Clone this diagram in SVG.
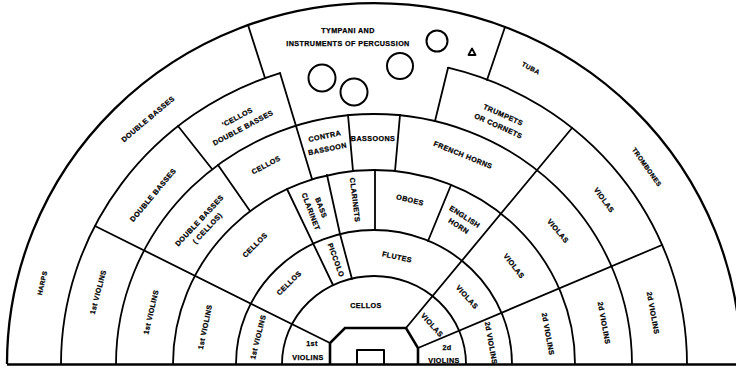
<svg xmlns="http://www.w3.org/2000/svg" width="736" height="369" viewBox="0 0 736 369">
<style>
.ln{fill:none;stroke:#000;stroke-width:1.8;stroke-linecap:round;stroke-linejoin:round}
.out{fill:none;stroke:#000;stroke-width:2.3}
.thk{fill:none;stroke:#000;stroke-width:2.6;stroke-linejoin:miter}
text{font-family:"Liberation Sans",Arial,sans-serif;font-weight:bold;font-size:7.2px;letter-spacing:0.4px;text-anchor:middle;dominant-baseline:central;fill:#000;stroke:#000;stroke-width:0.25px}
tspan{dominant-baseline:central}
.sm{font-size:6.5px}
</style>
<rect width="736" height="369" fill="#fff"/>
<g id="lines">
  <path class="out" d="M7 364 A367 361 0 0 1 741 364"/>
  <path class="ln" d="M61 364 A313 305 0 0 1 280 73.1"/>
  <path class="ln" d="M448 67.7 A313 305 0 0 1 687 364"/>
  <path class="ln" d="M116 364 A258 250 0 0 1 632 364"/>
  <path class="ln" d="M173 364 A201 194 0 0 1 575 364"/>
  <path class="ln" d="M236 364 A138 134 0 0 1 512 364"/>
  <path class="ln" d="M282 364 A92 88 0 0 1 466 364"/>
  <path class="ln" d="M248 25 L265 78"/>
  <path class="ln" d="M505 27 L487 80"/>
  <path class="ln" d="M280 73 L312 179"/>
  <path class="ln" d="M448 68 L435 121"/>
  <path class="ln" d="M178 126 L212 169"/>
  <path class="ln" d="M218 165 L250 211"/>
  <path class="ln" d="M95 226 L330 343"/>
  <path class="ln" d="M287 189 L333 285"/>
  <path class="ln" d="M327 175 L340 234 L352 279"/>
  <path class="ln" d="M348 115 L353 171"/>
  <path class="ln" d="M400 115 L395 171"/>
  <path class="ln" d="M375 170 L375 230"/>
  <path class="ln" d="M451 185 L428 241"/>
  <path class="ln" d="M572 128 L406 328"/>
  <path class="ln" d="M662 245 L418 348"/>
  <path class="thk" d="M7 364.5 L736 364.5"/>
</g>
<g id="stage">
  <path class="thk" d="M330 364 L330 343 L345 328 L406 328 L418 348 L418 364"/>
  <path class="ln" d="M357 364 L357 350 L384 350 L384 364" style="stroke-width:2"/>
</g>
<g id="percussion">
  <text transform="translate(348 30.5)">TYMPANI AND</text>
  <text transform="translate(348 43)">INSTRUMENTS OF PERCUSSION</text>
  <circle cx="322" cy="78" r="13.5" class="ln" style="stroke-width:2"/>
  <circle cx="354" cy="92" r="13.5" class="ln" style="stroke-width:2"/>
  <circle cx="400" cy="66" r="13" class="ln" style="stroke-width:2"/>
  <circle cx="437" cy="41" r="10.5" class="ln" style="stroke-width:2"/>
  <path class="ln" d="M468.5 55 L475.5 55 L472 48.5 Z" style="stroke-width:1.8"/>
</g>
<g id="ringF">
  <text transform="translate(148 119) rotate(-40)">DOUBLE BASSES</text>
  <text class="sm" transform="translate(42 283) rotate(-77)">HARPS</text>
  <text class="sm" transform="translate(531 68) rotate(28)">TUBA</text>
  <text class="sm" transform="translate(647 167) rotate(55)">TROMBONES</text>
</g>
<g id="ringE">
  <text transform="translate(98 292) rotate(-75)">1st VIOLINS</text>
  <text transform="translate(153 195) rotate(-50)">DOUBLE BASSES</text>
  <text transform="translate(240 122) rotate(-28)"><tspan x="0" y="-6">'CELLOS</tspan><tspan x="0" y="6">DOUBLE BASSES</tspan></text>
  <text transform="translate(501 120) rotate(24)"><tspan x="0" y="-6">TRUMPETS</tspan><tspan x="0" y="6">OR CORNETS</tspan></text>
  <text transform="translate(604 200) rotate(54)">VIOLAS</text>
  <text transform="translate(653 313) rotate(80)">2d VIOLINS</text>
</g>
<g id="ringD">
  <text transform="translate(151 312) rotate(-77)">1st VIOLINS</text>
  <text transform="translate(203 224) rotate(-47)"><tspan x="0" y="-5.5">DOUBLE BASSES</tspan><tspan x="0" y="5.5">( CELLOS)</tspan></text>
  <text transform="translate(266 165) rotate(-28)">CELLOS</text>
  <text transform="translate(326 142) rotate(-12)"><tspan x="0" y="-6.5">CONTRA</tspan><tspan x="0" y="6.5">BASSOON</tspan></text>
  <text transform="translate(373 138)">BASSOONS</text>
  <text transform="translate(463 155) rotate(22)">FRENCH HORNS</text>
  <text transform="translate(558 231) rotate(50)">VIOLAS</text>
  <text transform="translate(604 323) rotate(80)">2d VIOLINS</text>
</g>
<g id="ringC">
  <text transform="translate(205 327) rotate(-78)">1st VIOLINS</text>
  <text transform="translate(255 245) rotate(-45)">CELLOS</text>
  <text transform="translate(316.5 209.5) rotate(69)"><tspan x="0" y="-5.5">BASS</tspan><tspan x="0" y="5.5">CLARINET</tspan></text>
  <text transform="translate(355 200) rotate(83)">CLARINETS</text>
  <text transform="translate(410 200) rotate(14)">OBOES</text>
  <text transform="translate(462 221) rotate(33)"><tspan x="0" y="-5.5">ENGLISH</tspan><tspan x="0" y="5.5">HORN</tspan></text>
  <text transform="translate(514 266) rotate(52)">VIOLAS</text>
  <text transform="translate(548 334) rotate(80)">2d VIOLINS</text>
</g>
<g id="ringB">
  <text transform="translate(258 337) rotate(-76)">1st VIOLINS</text>
  <text transform="translate(289 283) rotate(-44)">CELLOS</text>
  <text transform="translate(336 260) rotate(70)">PICCOLO</text>
  <text transform="translate(397 257) rotate(12)">FLUTES</text>
  <text transform="translate(467 297) rotate(48)">VIOLAS</text>
  <text transform="translate(491 343) rotate(80)">2d VIOLINS</text>
</g>
<g id="ringA">
  <text transform="translate(366 305)">CELLOS</text>
  <text transform="translate(310 350)"><tspan x="2" y="-7">1st</tspan><tspan x="-2" y="7">VIOLINS</tspan></text>
  <text transform="translate(445 353)"><tspan x="2" y="-6">2d</tspan><tspan x="-1" y="7">VIOLINS</tspan></text>
  <text transform="translate(432 325) rotate(48)">VIOLAS</text>
</g>
</svg>
